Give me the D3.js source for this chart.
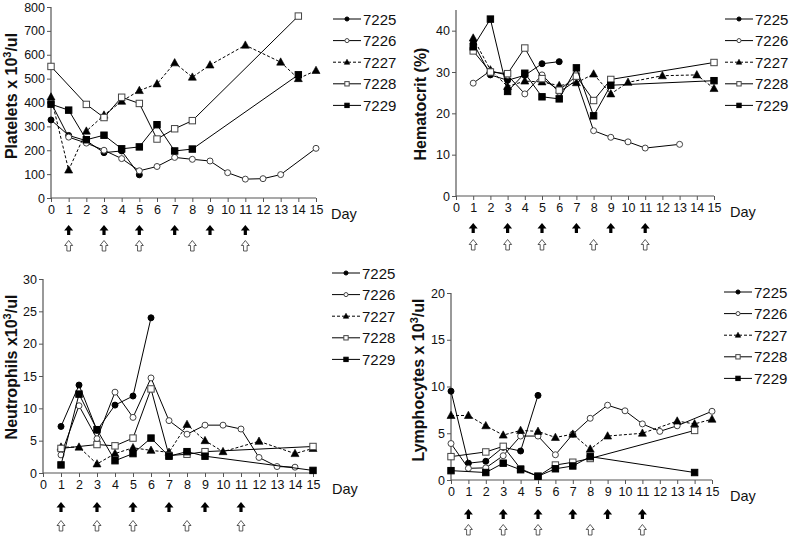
<!DOCTYPE html>
<html><head><meta charset="utf-8">
<script src="https://cdn.jsdelivr.net/npm/d3@7"></script>
<style>
body{margin:0;background:#fff;}
svg{font-family:"Liberation Sans",Arial,sans-serif;}
</style></head><body>
<svg id="c" width="791" height="537"></svg>
<script>
// ---------- data ----------
const animals = ["7225","7226","7227","7228","7229"];
const dayTicks = [0,1,2,3,4,5,6,7,8,9,10,11,12,13,14,15];
const blackArrowDays = [1,3,5,7,9,11];
const openArrowDays = [1,3,5,8,11];

const platelets7225 = [[0,327],[1,262],[2,240],[3,190],[4,197],[5,97]];
const platelets7226 = [[0,400],[1,255],[2,230],[3,200],[4,165],[5,114],[6,132],[7,170],[8,162],[9,155],[10,106],[11,79],[12,81],[13,98],[15,208]];
const platelets7227 = [[0,423],[1,117],[2,280],[3,347],[4,405],[5,450],[6,478],[7,566],[8,506],[9,557],[11,640],[13,569],[14,500],[15,534]];
const platelets7228 = [[0,551],[2,392],[3,337],[4,422],[5,396],[6,247],[7,290],[8,324],[14,762]];
const platelets7229 = [[0,393],[1,368],[2,244],[3,263],[4,206],[5,214],[6,307],[7,197],[8,205],[14,516]];

const hct7225 = [[1,37],[2,29.3],[3,28],[4,29.2],[5,32],[6,32.5]];
const hct7226 = [[1,27.3],[2,30.3],[3,29.2],[4,24.7],[5,29.3],[6,25.1],[7,28],[8,15.8],[9,14.2],[10,13.1],[11,11.6],[13,12.5]];
const hct7227 = [[1,38.2],[2,30.5],[3,26.5],[4,27.8],[5,27.6],[6,26.7],[7,27.4],[8,29.5],[9,24.7],[10,27.5],[12,29.1],[14,29.3],[15,26]];
const hct7228 = [[1,35.1],[2,30],[3,29.6],[4,35.8],[5,28.4],[6,25.6],[7,29],[8,23.1],[9,28.2],[15,32.3]];
const hct7229 = [[1,36.1],[2,42.8],[3,25.3],[4,29.7],[5,24],[6,23.5],[7,31],[8,19.4],[9,26.8],[15,27.9]];

const neu7225 = [[1,7.2],[2,13.6],[3,6.6],[4,10.5],[5,11.9],[6,24]];
const neu7226 = [[1,2.8],[2,10.4],[3,5.3],[4,12.5],[5,8.6],[6,14.7],[7,8.1],[8,6],[9,7.4],[10,7.4],[11,6.8],[12,2.4],[13,1],[14,0.9]];
const neu7227 = [[1,4],[2,4],[3,1.4],[4,3],[5,3.9],[6,3.5],[7,3.2],[8,7.5],[9,5],[10,3.3],[12,4.9],[14,3],[15,3.8]];
const neu7228 = [[1,3.8],[3,4.4],[4,4.2],[5,5.4],[6,13],[7,2.7],[8,2.9],[9,3.3],[15,4.1]];
const neu7229 = [[1,1.25],[2,12.2],[3,6.7],[4,1.9],[5,3],[6,5.4],[7,2.6],[8,3.3],[9,2.6],[15,0.4]];

const lym7225 = [[0,9.5],[1,1.8],[2,2],[3,3.5],[4,3.1],[5,9.05]];
const lym7226 = [[0,3.9],[1,1.25],[2,1.3],[3,2.6],[4,4.7],[5,4.7],[6,2.7],[7,4.9],[8,6.6],[9,8],[10,7.4],[11,6],[12,5.2],[13,5.8],[15,7.35]];
const lym7227 = [[0,6.9],[1,6.9],[2,5.8],[3,4.8],[4,5.3],[5,5.2],[6,4.55],[7,4.9],[8,3.3],[9,4.7],[11,5],[13,6.3],[14,6],[15,6.5]];
const lym7228 = [[0,2.5],[2,3],[3,3.6],[4,1.2],[5,0.4],[6,1.6],[7,1.9],[8,2.3],[14,5.3]];
const lym7229 = [[0,1],[2,0.8],[3,1.8],[4,1.1],[5,0.4],[6,1.2],[7,1.5],[8,2.5],[14,0.8]];

// ---------- styles ----------
const styles = {
  "7225": {marker:"circle", fill:"#000", stroke:"#000", dash:null},
  "7226": {marker:"circle", fill:"#fff", stroke:"#444", dash:null},
  "7227": {marker:"triangle", fill:"#000", stroke:"#000", dash:"3,2"},
  "7228": {marker:"square", fill:"#fff", stroke:"#444", dash:null},
  "7229": {marker:"square", fill:"#000", stroke:"#000", dash:null}
};

const svg = d3.select("#c");

function drawMarker(g, type, x, y, st, k){
  k = k || 1;
  if(type==="circle"){
    g.append("circle").attr("cx",x).attr("cy",y).attr("r",3*k)
      .attr("fill",st.fill).attr("stroke",st.stroke).attr("stroke-width",1);
  } else if(type==="square"){
    const h = 3.2*k;
    g.append("rect").attr("x",x-h).attr("y",y-h).attr("width",2*h).attr("height",2*h)
      .attr("fill",st.fill).attr("stroke",st.stroke).attr("stroke-width",1);
  } else {
    g.append("path").attr("d",`M${x},${y-4.3*k}L${x+4*k},${y+3*k}L${x-4*k},${y+3*k}Z`)
      .attr("fill",st.fill).attr("stroke",st.stroke).attr("stroke-width",0.6);
  }
}

function panel(cfg){
  const g = svg.append("g");
  const x = d3.scaleLinear().domain([0,15]).range(cfg.xr);
  const y = d3.scaleLinear().domain(cfg.yd).range(cfg.yr);
  // axes
  const ya = d3.axisLeft(y).tickValues(cfg.yticks).tickSize(4).tickPadding(2);
  const yg = g.append("g").attr("transform",`translate(${cfg.xr[0]},0)`).call(ya);
  const xa = d3.axisBottom(x).tickValues(dayTicks).tickSize(4).tickPadding(3);
  const xg = g.append("g").attr("transform",`translate(0,${cfg.yr[0]})`).call(xa);
  [yg,xg].forEach(a=>{
    a.select(".domain").attr("stroke","#555").attr("stroke-width",1.2);
    a.selectAll(".tick line").attr("stroke","#555");
    a.selectAll("text").attr("font-size","12.5px").attr("fill","#111")
      .attr("font-family",'"Liberation Sans",Arial,sans-serif');
  });
  xg.select(".domain").attr("d",`M${cfg.xr[0]},0H${cfg.xr[1]}`);
  yg.select(".domain").attr("d",`M0,${cfg.yr[0]}V${cfg.yr[1]}`);
  // y title
  const t = g.append("text").attr("transform",`translate(${cfg.tx},${cfg.ty}) rotate(-90)`)
    .attr("text-anchor","middle").attr("font-size","16px").attr("font-weight","bold").attr("fill","#111");
  cfg.title.forEach(p=>{
    const s = t.append("tspan").text(p.t);
    if(p.sup){ s.attr("font-size","11px").attr("dy","-6"); }
    else if(p.after){ s.attr("dy","6"); }
  });
  // Day label
  g.append("text").attr("x",cfg.dayX).attr("y",cfg.yr[0]+21).attr("font-size","14.5px").attr("fill","#111").text("Day");
  // series
  animals.forEach((a,i)=>{
    const st = styles[a];
    const data = cfg.series[i];
    const line = d3.line().x(d=>x(d[0])).y(d=>y(d[1]));
    g.append("path").attr("d",line(data)).attr("fill","none")
      .attr("stroke","#000").attr("stroke-width",1).attr("stroke-dasharray",st.dash);
    data.forEach(d=>drawMarker(g, st.marker, x(d[0]), y(d[1]), st));
  });
  // legend
  animals.forEach((a,i)=>{
    const st = styles[a];
    const ly = cfg.legY + i*21.6;
    g.append("line").attr("x1",cfg.legX).attr("x2",cfg.legX+28).attr("y1",ly).attr("y2",ly)
      .attr("stroke","#000").attr("stroke-width",1).attr("stroke-dasharray",st.dash);
    drawMarker(g, st.marker, cfg.legX+14, ly, st, 0.68);
    g.append("text").attr("x",cfg.legX+30).attr("y",ly+5.5).attr("font-size","15px").attr("fill","#111").text(a);
  });
  // arrows
  blackArrowDays.forEach(d=>{
    const cx = x(d), cy = cfg.arrB;
    g.append("path").attr("d",`M${cx},${cy-5}L${cx+4.5},${cy+0.5}L${cx+1.6},${cy+0.5}L${cx+1.6},${cy+5}L${cx-1.6},${cy+5}L${cx-1.6},${cy+0.5}L${cx-4.5},${cy+0.5}Z`)
      .attr("fill","#000");
  });
  openArrowDays.forEach(d=>{
    const cx = x(d), cy = cfg.arrO;
    g.append("path").attr("d",`M${cx},${cy-5.5}L${cx+4},${cy-0.5}L${cx+1.8},${cy-0.5}L${cx+1.8},${cy+5}L${cx-1.8},${cy+5}L${cx-1.8},${cy-0.5}L${cx-4},${cy-0.5}Z`)
      .attr("fill","#fff").attr("stroke","#333").attr("stroke-width",0.8);
  });
}

panel({xr:[51,316], yd:[0,800], yr:[198,7], yticks:[0,100,200,300,400,500,600,700,800],
  series:[platelets7225,platelets7226,platelets7227,platelets7228,platelets7229],
  title:[{t:"Platelets x 10"},{t:"3",sup:true},{t:"/ul",after:true}], tx:17, ty:96,
  dayX:331, legX:333, legY:19, arrB:230, arrO:246});

panel({xr:[456,714], yd:[0,45], yr:[196,10], yticks:[0,10,20,30,40],
  series:[hct7225,hct7226,hct7227,hct7228,hct7229],
  title:[{t:"Hematocrit (%)"}], tx:426, ty:104,
  dayX:730, legX:725, legY:19, arrB:228, arrO:245});

panel({xr:[43,313], yd:[0,30], yr:[473,279], yticks:[0,5,10,15,20,25,30],
  series:[neu7225,neu7226,neu7227,neu7228,neu7229],
  title:[{t:"Neutrophils x10"},{t:"3",sup:true},{t:"/ul",after:true}], tx:17, ty:367,
  dayX:332, legX:332, legY:273, arrB:507, arrO:526});

panel({xr:[451,712], yd:[0,20], yr:[480,293], yticks:[0,5,10,15,20],
  series:[lym7225,lym7226,lym7227,lym7228,lym7229],
  title:[{t:"Lymphocytes x 10"},{t:"3",sup:true},{t:"/ul",after:true}], tx:424, ty:380,
  dayX:730, legX:724, legY:292, arrB:514, arrO:530});
</script>
</body></html>
